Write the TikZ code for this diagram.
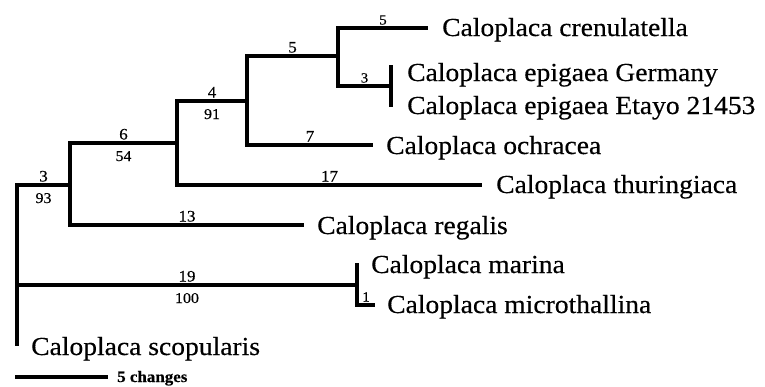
\documentclass[tikz,border=0pt]{standalone}
\usepackage{fontspec}
\setmainfont{Liberation Serif}[FakeStretch=1.06,FakeBold=0.4]
\begin{document}
\begin{tikzpicture}[x=1pt,y=-1pt,
  br/.style={line width=4pt},
  taxon/.style={anchor=base west, inner sep=0pt, font=\fontsize{26}{26}\selectfont},
  up/.style={anchor=base, inner sep=0pt, yshift=3.5pt, font=\fontsize{16}{16}\selectfont},
  upsmall/.style={anchor=base, inner sep=0pt, yshift=3.5pt, font=\fontsize{14}{14}\selectfont},
  down/.style={anchor=base, inner sep=0pt, yshift=-18pt, font=\fontsize{15}{15}\selectfont}]
\useasboundingbox (0,0) rectangle (765,386);
\fill[white] (0,0) rectangle (765,386);
% internal nodes
\coordinate (r) at (17,285);
\coordinate (n1) at (70,185);
\coordinate (n2) at (177,143);
\coordinate (n3) at (247,101);
\coordinate (n4) at (338,56);
\coordinate (n5) at (391,86);
\coordinate (n6) at (357,285);
% tips
\coordinate (tcren) at (428,28);
\coordinate (tger) at (391,65);
\coordinate (teta) at (391,107);
\coordinate (toch) at (373,145);
\coordinate (tthu) at (482,185);
\coordinate (treg) at (304,225);
\coordinate (tmar) at (357,263);
\coordinate (tmic) at (375,305);
\coordinate (tsco) at (17,346);
% branches
\draw[br] (r) |- node[up,pos=0.75] (b1) {3} node[down,pos=0.75] (s1) {93} (n1);
\draw[br] (r) -- node[up,pos=0.5] (b2) {19} node[down,pos=0.5] (s2) {100} (n6);
\draw[br] (r) -- (tsco);
\draw[br] (n1) |- node[up,pos=0.75] (b3) {6} node[down,pos=0.75] (s3) {54} (n2);
\draw[br] (n1) |- node[up,pos=0.75] (b4) {13} (treg);
\draw[br] (n2) |- node[up,pos=0.75] (b5) {4} node[down,pos=0.75] (s5) {91} (n3);
\draw[br] (n2) |- node[up,pos=0.75] (b6) {17} (tthu);
\draw[br] (n3) |- node[up,pos=0.75] (b7) {5} (n4);
\draw[br] (n3) |- node[up,pos=0.75] (b8) {7} (toch);
\draw[br] (n4) |- node[upsmall,pos=0.75] (b9) {5} (tcren);
\draw[br] (n4) |- node[upsmall,pos=0.75] (b10) {3} (n5);
\draw[br] (n5) -- (tger);
\draw[br] (n5) -- (teta);
\draw[br] (n6) -- (tmar);
\draw[br] (n6) |- node[upsmall,pos=0.75] (b11) {1} (tmic);
% taxa
\node[taxon] (lcren) at (442,36) {Caloplaca crenulatella};
\node[taxon] (lger) at (407,81) {Caloplaca epigaea Germany};
\node[taxon] (leta) at (407,114) {Caloplaca epigaea Etayo 21453};
\node[taxon] (loch) at (386,154) {Caloplaca ochracea};
\node[taxon] (lthu) at (496,193) {Caloplaca thuringiaca};
\node[taxon] (lreg) at (317,234) {Caloplaca regalis};
\node[taxon] (lmar) at (371,273) {Caloplaca marina};
\node[taxon] (lmic) at (387,313) {Caloplaca microthallina};
\node[taxon] (lsco) at (31,355) {Caloplaca scopularis};
% scale bar
\coordinate (sc1) at (15,377);
\coordinate (sc2) at (108,377);
\draw[br] (sc1) -- (sc2);
\node[anchor=base west, inner sep=0pt, font=\fontsize{16}{16}\selectfont\bfseries] (scl) at (117,382) {5 changes};
\end{tikzpicture}
\end{document}
